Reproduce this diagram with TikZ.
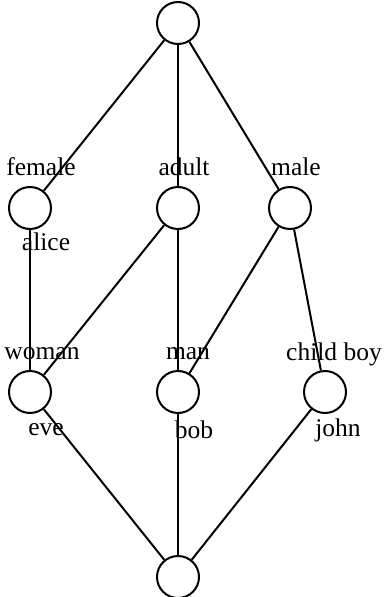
\documentclass[tikz,border=0pt]{standalone}
\usepackage{fontspec}
\setmainfont{Liberation Serif}
\begin{document}
\begin{tikzpicture}[x=1pt,y=-1pt,
  cnode/.style={circle,draw,line width=2pt,minimum size=42pt,inner sep=0pt},
  lbl/.style={inner sep=0pt,font=\fontsize{25.5}{30}\selectfont},
  edge/.style={line width=2pt}]
\useasboundingbox (0,0) rectangle (384,597);
\node[cnode] (t) at (178,23) {};
\node[cnode] (f) at (30,208) {};
\node[cnode] (a) at (178,208) {};
\node[cnode] (m) at (290,208) {};
\node[cnode] (w) at (30,392) {};
\node[cnode] (mn) at (178,392) {};
\node[cnode] (c) at (325,392) {};
\node[cnode] (b) at (178,577) {};
\draw[edge] (t) -- (f);
\draw[edge] (t) -- (a);
\draw[edge] (t) -- (m);
\draw[edge] (f) -- (w);
\draw[edge] (a) -- (w);
\draw[edge] (a) -- (mn);
\draw[edge] (m) -- (mn);
\draw[edge] (m) -- (c);
\draw[edge] (w) -- (b);
\draw[edge] (mn) -- (b);
\draw[edge] (c) -- (b);
\node[lbl] (lf) at (41,167) {female};
\node[lbl] (la) at (46,242) {alice};
\node[lbl] (lad) at (184,167) {adult};
\node[lbl] (lm) at (296,167) {male};
\node[lbl] (lw) at (42,354) {woman};
\node[lbl] (le) at (46,430) {eve};
\node[lbl] (lmn) at (188,354) {man};
\node[lbl] (lb) at (194,430) {bob};
\node[lbl] (lc) at (334,354) {child boy};
\node[lbl] (lj) at (338,430) {john};
\end{tikzpicture}
\end{document}
